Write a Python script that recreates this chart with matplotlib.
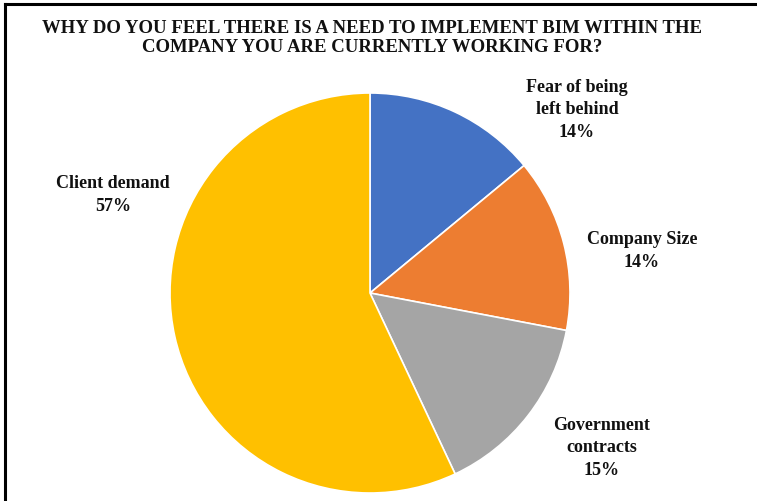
import matplotlib
matplotlib.use('Agg')
import matplotlib.pyplot as plt
from matplotlib.lines import Line2D

# ===== DADOS =====
categorias = ['Fear of being\nleft behind', 'Company Size', 'Government\ncontracts', 'Client demand']
valores = [14, 14, 15, 57]
cores = ['#4472C4', '#ED7D31', '#A5A5A5', '#FFC000']
titulo = 'WHY DO YOU FEEL THERE IS A NEED TO IMPLEMENT BIM WITHIN THE\nCOMPANY YOU ARE CURRENTLY WORKING FOR?'

W, H = 757, 502
fig = plt.figure(figsize=(W / 100, H / 100), dpi=100)
plt.rcParams['font.family'] = ['Liberation Serif', 'DejaVu Serif']

# eixo posicionado em pixels: centro (370, 294), raio 200
cx, cy, r = 370, 294, 200
ax = fig.add_axes([(cx - r) / W, 1 - (cy + r) / H, 2 * r / W, 2 * r / H])
ax.pie(valores, colors=cores, startangle=90, counterclock=False,
       wedgeprops=dict(edgecolor='white', linewidth=1.2))
ax.set_xlim(-1.0, 1.0)
ax.set_ylim(-1.0, 1.0)
ax.set_aspect('auto')
ax.axis('off')

# rótulos (pixel -> fração da figura)
posicoes = [(577, 110), (642, 251), (602, 448), (113, 195)]
for cat, val, (px, py) in zip(categorias, valores, posicoes):
    fig.text(px / W, 1 - py / H, f'{cat}\n{val}%', ha='center', va='center',
             fontsize=13, fontweight='bold', linespacing=1.4, color='#111111')

fig.text(372 / W, 1 - 38 / H, titulo, ha='center', va='center',
         fontsize=13.5, fontweight='bold', linespacing=1.08, color='#111111')

# borda (topo e esquerda)
fig.add_artist(Line2D([5 / W, 1.0], [1 - 5 / H, 1 - 5 / H], color='black', lw=2.2,
                      transform=fig.transFigure))
fig.add_artist(Line2D([5 / W, 5 / W], [0.0, 1 - 5 / H], color='black', lw=2.2,
                      transform=fig.transFigure))

plt.savefig('out.png', dpi=100)
